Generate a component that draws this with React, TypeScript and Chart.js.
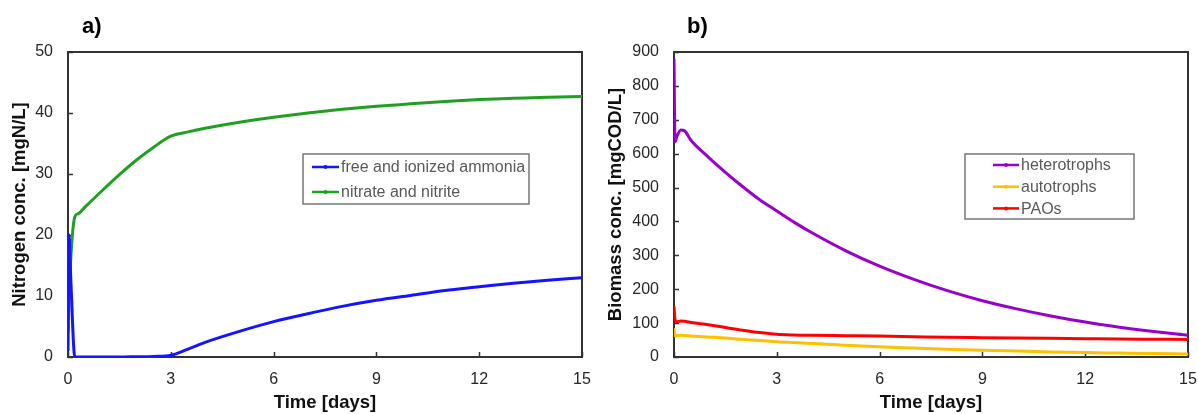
import React, { useEffect, useRef } from "react";
import { Chart, registerables } from "chart.js";

Chart.register(...registerables);

// ---- data (time in days) ----
const timeDays = [0, 0.03, 0.08, 0.2, 0.3, 0.5, 1, 1.5, 2, 2.5, 3, 3.5, 4, 5, 6, 7, 8, 9, 10, 11, 12, 13, 14, 15];
const ammonia = [1, 20, 13, 0, 0, 0, 0, 0, 0.05, 0.1, 0.3, 1.3, 2.4, 4.2, 5.8, 7.1, 8.3, 9.3, 10.1, 10.9, 11.5, 12.1, 12.6, 13.0];
const nitrate = [4, 9, 16, 23, 23.5, 24.6, 27.3, 29.9, 32.3, 34.4, 36.2, 36.9, 37.5, 38.5, 39.3, 40.0, 40.6, 41.1, 41.5, 41.9, 42.2, 42.4, 42.6, 42.7];
const heterotrophs = [880, 635, 650, 670, 668, 639, 590, 545, 503, 464, 431, 398, 368, 314, 268, 229, 195, 166, 142, 121, 103, 88, 75, 64];
const autotrophs = [85, 62, 63, 64, 63.8, 62, 59, 56, 52, 49, 45, 42.5, 40, 35, 30, 26.5, 23, 20, 17.5, 15, 13, 11.5, 10, 9];
const paos = [150, 110, 104, 106, 105.5, 102, 95, 87, 79, 72, 67, 65, 64, 63, 62, 60, 58, 57, 56, 55, 54, 53, 52.5, 52];

const xMin = 0;
const xMax = 15;
const xStep = 3;
const nitrogenMax = 50;
const nitrogenStep = 10;
const biomassMax = 900;
const biomassStep = 100;

const FONT = "'Liberation Sans', Arial, Helvetica, sans-serif";

const toPoints = (ys: number[]) => ys.map((y, i) => ({ x: timeDays[i], y }));

const framePlugin = {
  id: "frame",
  beforeDatasetsDraw(chart: any) {
    const { ctx, chartArea: a } = chart;
    ctx.save();
    ctx.strokeStyle = "#333333";
    ctx.lineWidth = 2;
    ctx.strokeRect(a.left, a.top, a.right - a.left, a.bottom - a.top);
    ctx.lineWidth = 1.5;
    const xs = chart.scales.x;
    const ys = chart.scales.y;
    ctx.beginPath();
    xs.ticks.forEach((t: any) => {
      const px = Math.round(xs.getPixelForValue(t.value)) + 0.5;
      ctx.moveTo(px, a.bottom);
      ctx.lineTo(px, a.bottom - 5);
    });
    ys.ticks.forEach((t: any) => {
      const py = Math.round(ys.getPixelForValue(t.value)) + 0.5;
      ctx.moveTo(a.left, py);
      ctx.lineTo(a.left + 5, py);
    });
    ctx.stroke();
    ctx.restore();
  },
  afterDraw(chart: any, _args: any, opts: any) {
    const { ctx } = chart;
    ctx.save();
    // panel label
    ctx.fillStyle = "#000";
    ctx.font = `bold 22px ${FONT}`;
    ctx.textBaseline = "alphabetic";
    ctx.textAlign = "left";
    ctx.fillText(opts.panelLabel, opts.labelX, opts.labelY);
    // legend box
    const L = opts.legend;
    ctx.fillStyle = "#ffffff";
    ctx.fillRect(L.x, L.y, L.w, L.h);
    ctx.strokeStyle = "#777777";
    ctx.lineWidth = 1.5;
    ctx.strokeRect(L.x, L.y, L.w, L.h);
    ctx.font = `16px ${FONT}`;
    ctx.textBaseline = "middle";
    chart.data.datasets.forEach((ds: any, i: number) => {
      const cy = L.firstRow + i * L.rowH;
      ctx.strokeStyle = ds.borderColor;
      ctx.lineWidth = 2.5;
      ctx.beginPath();
      ctx.moveTo(L.lineX0, cy);
      ctx.lineTo(L.lineX1, cy);
      ctx.stroke();
      ctx.fillStyle = ds.borderColor;
      ctx.beginPath();
      ctx.arc((L.lineX0 + L.lineX1) / 2, cy, 2, 0, Math.PI * 2);
      ctx.fill();
      ctx.fillStyle = "#595959";
      ctx.fillText(ds.label, L.textX, cy + 1);
    });
    ctx.restore();
  },
};

function makeConfig(p: {
  datasets: any[];
  yMax: number;
  yStep: number;
  yTitle: string;
  yWidth: number;
  rightPad: number;
  yTitlePad: number;
  frame: any;
}): any {
  return {
    type: "line",
    data: { datasets: p.datasets },
    plugins: [framePlugin],
    options: {
      responsive: false,
      animation: false,
      devicePixelRatio: 1,
      layout: { padding: { left: 0, top: 52, right: p.rightPad, bottom: 0 } },
      elements: {
        point: { radius: 0 },
        line: { tension: 0, borderWidth: 3, cubicInterpolationMode: "monotone" },
      },
      plugins: {
        legend: { display: false },
        title: { display: false },
        tooltip: { enabled: false },
        frame: p.frame,
      },
      scales: {
        x: {
          type: "linear",
          min: xMin,
          max: xMax,
          grid: { display: false, drawTicks: false },
          border: { display: false },
          ticks: {
            stepSize: xStep,
            padding: 13,
            color: "#262626",
            font: { size: 16, family: FONT },
            maxRotation: 0,
          },
          title: {
            display: true,
            text: "Time [days]",
            color: "#111",
            font: { size: 18.5, weight: "bold", family: FONT },
            padding: { top: 0, bottom: 0 },
          },
          afterFit: (s: any) => {
            s.height = 57;
            s.paddingLeft = 0;
            s.paddingRight = 0;
          },
        },
        y: {
          type: "linear",
          min: 0,
          max: p.yMax,
          grid: { display: false, drawTicks: false },
          border: { display: false },
          ticks: {
            stepSize: p.yStep,
            padding: 15,
            color: "#262626",
            font: { size: 16, family: FONT },
          },
          title: {
            display: true,
            text: p.yTitle,
            color: "#111",
            font: { size: 18.5, weight: "bold", family: FONT },
            padding: { top: p.yTitlePad, bottom: 0 },
          },
          afterFit: (s: any) => {
            s.width = p.yWidth;
            s.paddingTop = 0;
            s.paddingBottom = 0;
          },
        },
      },
    },
  };
}

export default function App() {
  const refA = useRef<HTMLCanvasElement>(null);
  const refB = useRef<HTMLCanvasElement>(null);

  useEffect(() => {
    const chartA = new Chart(
      refA.current as HTMLCanvasElement,
      makeConfig({
        datasets: [
          { label: "free and ionized ammonia", data: toPoints(ammonia), borderColor: "#1414ff", backgroundColor: "#1414ff" },
          { label: "nitrate and nitrite", data: toPoints(nitrate), borderColor: "#20a020", backgroundColor: "#20a020" },
        ],
        yMax: nitrogenMax,
        yStep: nitrogenStep,
        yTitle: "Nitrogen conc. [mgN/L]",
        yWidth: 68,
        rightPad: 16,
        yTitlePad: 9,
        frame: {
          panelLabel: "a)",
          labelX: 82,
          labelY: 33,
          legend: { x: 303, y: 154, w: 226, h: 50, firstRow: 167, rowH: 25, lineX0: 312, lineX1: 339, textX: 341 },
        },
      })
    );
    const chartB = new Chart(
      refB.current as HTMLCanvasElement,
      makeConfig({
        datasets: [
          { label: "heterotrophs", data: toPoints(heterotrophs), borderColor: "#9900cc", backgroundColor: "#9900cc" },
          { label: "autotrophs", data: toPoints(autotrophs), borderColor: "#ffc000", backgroundColor: "#ffc000" },
          { label: "PAOs", data: toPoints(paos), borderColor: "#ff0000", backgroundColor: "#ff0000" },
        ],
        yMax: biomassMax,
        yStep: biomassStep,
        yTitle: "Biomass conc. [mgCOD/L]",
        yWidth: 76,
        rightPad: 10,
        yTitlePad: 7,
        frame: {
          panelLabel: "b)",
          labelX: 89,
          labelY: 33,
          legend: { x: 367, y: 154, w: 169, h: 65, firstRow: 165, rowH: 21.7, lineX0: 395, lineX1: 421, textX: 423 },
        },
      })
    );
    return () => {
      chartA.destroy();
      chartB.destroy();
    };
  }, []);

  return (
    <div style={{ position: "absolute", left: 0, top: 0, width: 1198, height: 414, background: "#fff" }}>
      <canvas
        ref={refA}
        width={598}
        height={414}
        style={{ position: "absolute", left: 0, top: 0, width: 598, height: 414, display: "block" }}
      />
      <canvas
        ref={refB}
        width={600}
        height={414}
        style={{ position: "absolute", left: 598, top: 0, width: 600, height: 414, display: "block" }}
      />
    </div>
  );
}
